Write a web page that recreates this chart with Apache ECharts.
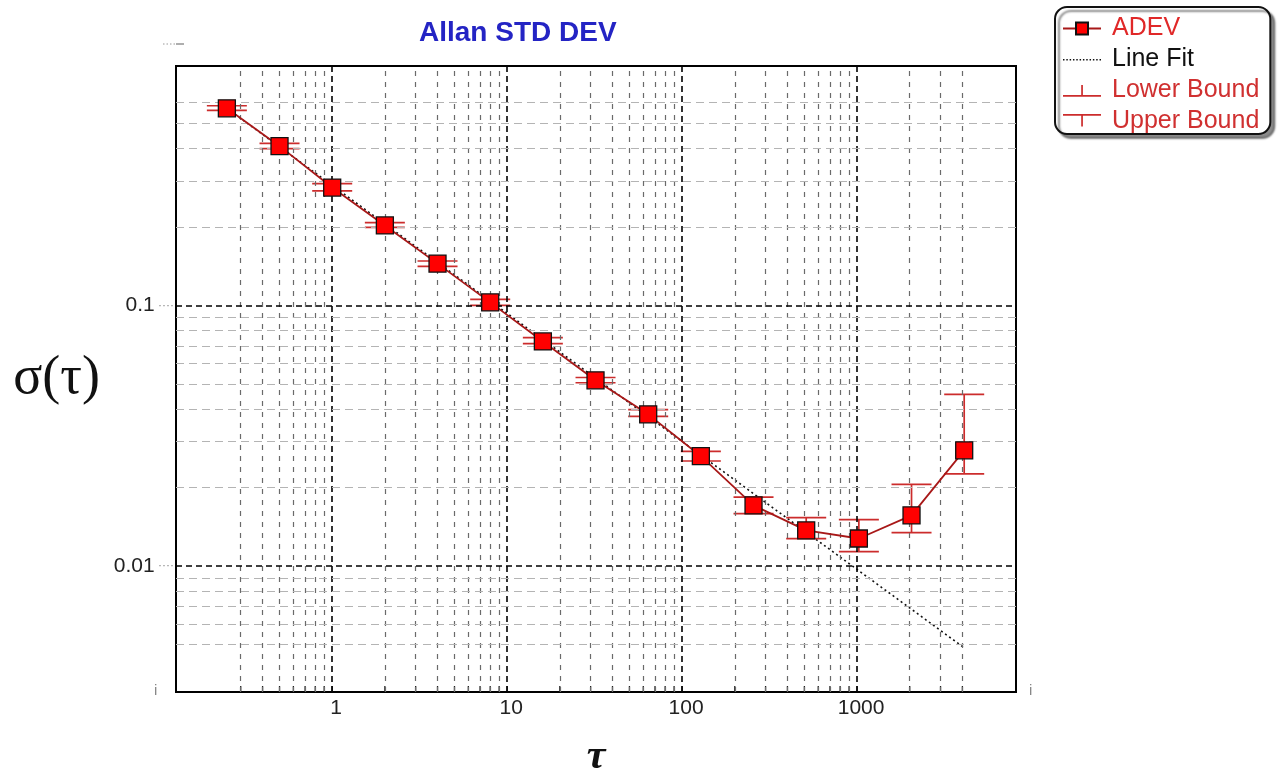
<!DOCTYPE html>
<html>
<head>
<meta charset="utf-8">
<script src="https://cdn.jsdelivr.net/npm/echarts@6/dist/echarts.min.js"></script>
<style>html,body{margin:0;padding:0;background:#fff}#c{width:1282px;height:777px}</style>
</head>
<body>
<div id="c"></div>
<script>
// ---- data ----
const taus  = [0.25, 0.5, 1, 2, 4, 8, 16, 32, 64, 128, 256, 512, 1024, 2048, 4096];
const adev  = [0.570, 0.408, 0.283, 0.2025, 0.1446, 0.1027, 0.0727, 0.0516, 0.0382, 0.0264, 0.0171, 0.01371, 0.01276, 0.01565, 0.0278];
const upper = [0.583, 0.418, 0.293, 0.2075, 0.148, 0.1055, 0.0752, 0.0529, 0.0398, 0.02754, 0.0184, 0.01534, 0.01507, 0.02057, 0.0456];
const lower = [0.560, 0.399, 0.275, 0.199, 0.141, 0.1000, 0.0713, 0.0505, 0.0375, 0.0253, 0.0159, 0.01274, 0.01137, 0.01343, 0.0226];
const fitTau = [0.25, 4096];
const fitVal = [0.57, 0.00486];
const xTickLabels = [1, 10, 100, 1000];
const yTickLabels = [0.01, 0.1];
const xMinorGrid = [0.3,0.4,0.5,0.6,0.7,0.8,0.9, 2,3,4,5,6,7,8,9, 20,30,40,50,60,70,80,90, 200,300,400,500,600,700,800,900, 2000,3000,4000];
const yMinorGrid = [0.005,0.006,0.007,0.008,0.009, 0.02,0.03,0.04,0.05,0.06,0.07,0.08,0.09, 0.2,0.3,0.4,0.5,0.6];

const chart = echarts.init(document.getElementById('c'));
const FONT = 'Liberation Sans, Arial, sans-serif';
const BAR = '#cc2c2c';

function isTick(v, arr){ return arr.some(t => Math.abs(v - t) / t < 1e-6); }

function errBar(){
  return function(params, api){
    const t = api.value(0), v = api.value(1), b = api.value(2);
    const p0 = api.coord([t, v]);
    const p1 = api.coord([t, b]);
    const half = 20;
    const st = {stroke: BAR, lineWidth: 1.7};
    return {type:'group', children:[
      {type:'line', shape:{x1:p0[0], y1:p0[1], x2:p1[0], y2:p1[1]}, style:st},
      {type:'line', shape:{x1:p1[0]-half, y1:p1[1], x2:p1[0]+half, y2:p1[1]}, style:st}
    ]};
  };
}

// short inside tick marks on the bottom axis, positioned by the x scale
function bottomTick(params, api){
  const cs = params.coordSys;
  const p = api.coord([api.value(0), 0.1]);
  const yb = cs.y + cs.height;
  return {type:'line', shape:{x1:p[0], y1:yb, x2:p[0], y2:yb - 6}, style:{stroke:'#222', lineWidth:1.3}};
}

// dotted legend icon for the fit line (38x15 box)
let dotted = 'path://M0,0M38,15';
for (let x = 0; x < 38; x += 3.4) dotted += 'M' + x.toFixed(1) + ',7h1.5v1.5h-1.5z';

const gridLines = []
  .concat(xMinorGrid.map(v => ({xAxis: v, lineStyle:{color:'#6a6a6a', type:[5,6], width:1.2}})))
  .concat(xTickLabels.map(v => ({xAxis: v, lineStyle:{color:'#000', type:[6,4], width:1.6}})))
  .concat(yMinorGrid.map(v => ({yAxis: v, lineStyle:{color:'#b4b4b4', type:[8,5], width:1.2}})))
  .concat(yTickLabels.map(v => ({yAxis: v, lineStyle:{color:'#000', type:[6,4], width:1.6}})));

chart.setOption({
  animation: false,
  title: {
    text: 'Allan STD DEV', left: 414, top: 14,
    textStyle: {color:'#2424c4', fontSize: 28, fontWeight: 'bold', fontFamily: FONT}
  },
  legend: {
    orient: 'vertical', left: 1055, top: 7,
    padding: [9, 11, 0, 7],
    itemWidth: 38, itemHeight: 15, itemGap: 6,
    backgroundColor: '#fff', borderColor: '#111', borderWidth: 2, borderRadius: 12,
    shadowColor: 'rgba(0,0,0,0.45)', shadowOffsetX: 4, shadowOffsetY: 4, shadowBlur: 2,
    textStyle: {fontSize: 25, fontFamily: FONT, padding: [0, 0, 0, 6]},
    data: [
      {name: 'ADEV', textStyle: {color: '#e02828'}},
      {name: 'Line Fit', icon: dotted, itemStyle: {color: '#111'}, textStyle: {color: '#111'}},
      {name: 'Lower Bound', icon: 'path://M0,0M38,15M0,12h38v1.7h-38zM18.2,2h1.7v10h-1.7z', textStyle: {color: '#d03030'}},
      {name: 'Upper Bound', icon: 'path://M0,0M38,15M0,0h38v1.7h-38zM18.2,1.6h1.7v11h-1.7z', textStyle: {color: '#d03030'}}
    ]
  },
  grid: {left: 176, top: 66, right: 266, bottom: 85, outerBoundsMode: 'none', containLabel: false,
         show: true, borderColor: '#000', borderWidth: 2, backgroundColor: 'transparent'},
  xAxis: {
    type: 'log', logBase: 10, min: 0.128, max: 8100,
    name: 'τ', nameLocation: 'middle', nameGap: 44,
    nameTextStyle: {fontSize: 42, fontStyle: 'italic', fontWeight: 'bold', fontFamily: 'Liberation Serif, serif', color: '#111'},
    axisLine: {show: false}, axisTick: {show: false}, splitLine: {show: false},
    axisLabel: {
      margin: 6, fontSize: 21, fontFamily: FONT, color: '#222', padding: [0, 0, 0, 8],
      formatter: v => isTick(v, xTickLabels) ? String(Math.round(v)) : ''
    }
  },
  yAxis: {
    type: 'log', logBase: 10, min: 0.00329, max: 0.828,
    name: 'σ(τ)', nameLocation: 'middle', nameRotate: 0, nameGap: 76,
    nameTextStyle: {fontSize: 54, fontFamily: 'Liberation Serif, serif', color: '#111', padding: [12, 0, 0, 0]},
    axisLine: {show: false}, axisTick: {show: false}, splitLine: {show: false},
    axisLabel: {
      margin: 2, fontSize: 21, fontFamily: FONT, color: '#222',
      formatter: v => isTick(v, yTickLabels) ? '{t|' + (v < 0.05 ? '0.01' : '0.1') + '}{d| ····}' : '',
      rich: {t: {fontSize: 21, fontFamily: FONT, color: '#222'}, d: {fontSize: 12, color: '#888', fontFamily: FONT}}
    }
  },
  series: [
    {
      name: '_grid', type: 'line', data: [], silent: true, z: 1,
      markLine: {silent: true, precision: 10, symbol: ['none','none'], label: {show: false}, animation: false, data: gridLines}
    },
    {
      name: '_ticks', type: 'custom', silent: true, z: 2,
      renderItem: bottomTick,
      data: xMinorGrid.concat(xTickLabels).map(v => [v])
    },
    {
      name: 'Line Fit', type: 'line', data: fitTau.map((t, i) => [t, fitVal[i]]),
      symbol: 'none', z: 3, silent: true,
      itemStyle: {color: '#111'},
      lineStyle: {color: '#111', width: 1.6, type: [2, 3]}
    },
    {
      name: 'Lower Bound', type: 'custom', z: 4, silent: true,
      itemStyle: {color: BAR},
      renderItem: errBar(),
      data: taus.map((t, i) => [t, adev[i], lower[i]])
    },
    {
      name: 'Upper Bound', type: 'custom', z: 4, silent: true,
      itemStyle: {color: BAR},
      renderItem: errBar(),
      data: taus.map((t, i) => [t, adev[i], upper[i]])
    },
    {
      name: 'ADEV', type: 'line', data: taus.map((t, i) => [t, adev[i]]),
      symbol: 'rect', symbolSize: 17, z: 5,
      lineStyle: {color: '#a81818', width: 1.8},
      itemStyle: {color: '#ff0000', borderColor: '#111', borderWidth: 1.3}
    }
  ],
  graphic: [
    {type: 'text', left: 154, top: 683, style: {text: 'i', fontSize: 15, fill: '#888', fontFamily: FONT}},
    {type: 'text', left: 1029, top: 683, style: {text: 'i', fontSize: 15, fill: '#888', fontFamily: FONT}},
    {type: 'line', shape: {x1: 163, y1: 44, x2: 176, y2: 44}, style: {stroke: '#999', lineWidth: 1, lineDash: [1.5, 2]}},
    {type: 'line', shape: {x1: 176, y1: 44, x2: 184, y2: 44}, style: {stroke: '#777', lineWidth: 1.2}}
  ]
});
</script>
</body>
</html>
